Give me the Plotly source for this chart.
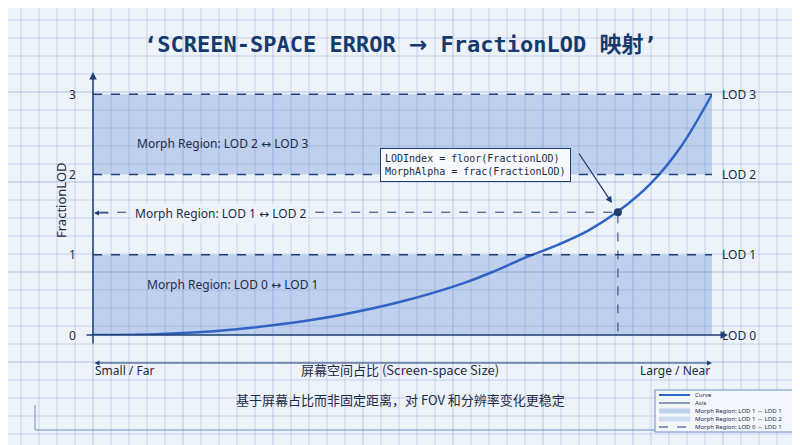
import plotly.graph_objects as go

# curve: screen-space fraction -> FractionLOD
size_frac = [0.0, 0.1, 0.2, 0.3, 0.4, 0.5, 0.6, 0.65, 0.7, 0.75, 0.8, 0.85, 0.9, 0.95, 1.0]
fraction_lod = [0.0, 0.01, 0.05, 0.13, 0.25, 0.42, 0.65, 0.8, 0.97, 1.12, 1.3, 1.55, 1.88, 2.35, 3.0]
lod_levels = [0, 1, 2, 3]
lod_labels = ["LOD 0", "LOD 1", "LOD 2", "LOD 3"]
ARR = "<span style='font-family:DejaVu Sans'>↔</span>"
region_labels = [f"Morph Region: LOD 0 {ARR} LOD 1", f"Morph Region: LOD 1 {ARR} LOD 2", f"Morph Region: LOD 2 {ARR} LOD 3"]
legend_labels = ["Curve", "Axis", "Morph Region: LOD 1 ↔ LOD 1", "Morph Region: LOD 1 ↔ LOD 2", "Morph Region: LOD 0 ↔ LOD 1"]
marker_x, marker_y = 0.848, 1.53

W, H = 792, 437
OFF = 8  # page body margin
L, R, T, B = 85, 88, 67, 110
YMAX = 3.24
INK = "#1f3f73"
BLUE = "#2f63c4"
TXT = "#1d2b45"

def px(x):  # screen pixel -> paper x
    return (x - OFF - L) / (W - L - R)

def py(y):  # screen pixel -> paper y
    return (H - B - (y - OFF)) / (H - T - B)

fig = go.Figure()
shapes = []
# blueprint grid
for gx in range(3, W + 8, 18):
    shapes.append(dict(type="line", xref="paper", yref="paper", x0=px(gx), x1=px(gx), y0=py(OFF), y1=py(H + OFF),
                       line=dict(color="rgba(120,150,200,0.35)", width=1 if (gx - 3) % 90 else 1.4), layer="below"))
for gy in range(2, H + 8, 18):
    shapes.append(dict(type="line", xref="paper", yref="paper", x0=px(OFF), x1=px(W + OFF), y0=py(gy), y1=py(gy),
                       line=dict(color="rgba(120,150,200,0.35)", width=1 if (gy - 2) % 90 else 1.4), layer="below"))
# shaded bands
for y0, y1 in [(0, 1), (2, 3)]:
    shapes.append(dict(type="rect", xref="x", yref="y", x0=0, x1=1, y0=y0, y1=y1,
                       fillcolor="rgba(70,120,210,0.28)", line=dict(width=0), layer="below"))
# LOD dashed lines
for lv in lod_levels[1:]:
    shapes.append(dict(type="line", xref="x", yref="y", x0=0, x1=1, y0=lv, y1=lv,
                       line=dict(color=INK, width=1.3, dash="dash")))
# marker guides
shapes.append(dict(type="line", xref="x", yref="y", x0=marker_x, x1=marker_x, y0=-0.18, y1=marker_y,
                   line=dict(color=INK, width=1, dash="dash")))
shapes.append(dict(type="line", xref="x", yref="y", x0=0.01, x1=marker_x, y0=marker_y, y1=marker_y,
                   line=dict(color=INK, width=1, dash="dash")))
# bottom frame
shapes.append(dict(type="line", xref="paper", yref="paper", x0=px(35), x1=px(795), y0=py(430), y1=py(430),
                   line=dict(color="#6d8cc0", width=1)))
shapes.append(dict(type="line", xref="paper", yref="paper", x0=px(35), x1=px(35), y0=py(405), y1=py(430),
                   line=dict(color="#6d8cc0", width=1)))

# manual legend
shapes.append(dict(type="rect", xref="paper", yref="paper", x0=px(655), x1=px(795), y0=py(390), y1=py(432),
                   fillcolor="#f3f6fb", line=dict(color="#6d8cc0", width=1)))
ann = []
leg_styles = [dict(line=dict(color=BLUE, width=2)), dict(line=dict(color=INK, width=1)),
              dict(line=dict(color="rgba(70,120,210,0.3)", width=5)), dict(line=dict(color="rgba(70,120,210,0.2)", width=5)),
              dict(line=dict(color=INK, width=1, dash="dash"))]
for i, (lab, st) in enumerate(zip(legend_labels, leg_styles)):
    yy = 395 + i * 8
    shapes.append(dict(type="line", xref="paper", yref="paper", x0=px(659), x1=px(690), y0=py(yy), y1=py(yy), **st))
    ann.append(dict(xref="paper", yref="paper", x=px(693), y=py(yy), text=lab, showarrow=False, xanchor="left",
                    yanchor="middle", font=dict(family="Noto Sans", size=6, color=TXT)))
fig.update_layout(shapes=shapes)

fig.add_trace(go.Scatter(x=size_frac, y=fraction_lod, mode="lines", line=dict(color=BLUE, width=2.5, shape="spline"),
                         name="Curve", cliponaxis=False, showlegend=False))
fig.add_trace(go.Scatter(x=[marker_x], y=[marker_y], mode="markers", marker=dict(color=INK, size=8),
                         showlegend=False))

XD, YD = "x domain", "y domain"

def arrow(x0, y0, x1, y1, **kw):
    return dict(xref=XD, yref=YD, axref=XD, ayref=YD, x=px(x1), y=py(y1), ax=px(x0), ay=py(y0),
                text="", showarrow=True, arrowcolor=INK, **kw)

ann.append(dict(xref="paper", yref="paper", x=px(400), y=py(45),
                text="<b>‘SCREEN-SPACE ERROR <span style='font-family:DejaVu Sans'>→</span> FractionLOD 映射’</b>",
                showarrow=False, font=dict(family="DejaVu Sans Mono, Noto Sans CJK SC", size=22, color="#173a6e"),
                xanchor="center", yanchor="middle"))
for lv, lab in zip(lod_levels, lod_labels):
    ann.append(dict(xref="paper", yref="y", x=px(720), y=lv, text=lab, showarrow=False, xanchor="left",
                    font=dict(family="Noto Sans", size=12, color=TXT)))
    ann.append(dict(xref="paper", yref="y", x=px(78), y=lv, text=str(lv), showarrow=False, xanchor="right",
                    font=dict(family="Noto Sans", size=12, color=TXT)))
for (xx, yy), lab, bg in zip([(145, 295), (133, 213), (135, 133)], region_labels,
                             ["rgba(0,0,0,0)", "#eef3fa", "rgba(0,0,0,0)"]):
    ann.append(dict(xref="paper", yref="paper", x=px(xx), y=py(yy), text=lab, showarrow=False, xanchor="left",
                    font=dict(family="Noto Sans", size=12, color=TXT), bgcolor=bg))
ann.append(dict(xref="paper", yref="paper", x=px(50), y=py(200), text="FractionLOD", textangle=-90, showarrow=False,
                font=dict(family="Noto Sans", size=13, color=TXT)))
# axis arrows
ann.append(arrow(93, 345, 93, 72, arrowhead=2, arrowwidth=1.5))
ann.append(arrow(85, 335, 728, 335, arrowhead=2, arrowwidth=1.5))
ann.append(arrow(93, 363, 712, 363, arrowhead=2, arrowside="end+start", arrowwidth=1))
ann.append(arrow(110, 213, 94, 213, arrowhead=2, arrowwidth=1))
ann.append(dict(xref="paper", yref="paper", x=px(93), y=py(381), text="Small / Far", showarrow=False, xanchor="left",
                font=dict(family="Noto Sans", size=12, color=TXT)))
ann.append(dict(xref="paper", yref="paper", x=px(712), y=py(381), text="Large / Near", showarrow=False, xanchor="right",
                font=dict(family="Noto Sans", size=12, color=TXT)))
ann.append(dict(xref="paper", yref="paper", x=px(400), y=py(381), text="屏幕空间占比 (Screen-space Size)", showarrow=False,
                font=dict(family="Noto Sans CJK SC", size=13, color=TXT)))
ann.append(dict(xref="paper", yref="paper", x=px(400), y=py(411), text="基于屏幕占比而非固定距离，对 FOV 和分辨率变化更稳定",
                showarrow=False, font=dict(family="Noto Sans CJK SC", size=13, color=TXT)))
# formula box
ann.append(dict(xref="paper", yref="paper", x=px(380), y=py(148), xanchor="left",
                text="LODIndex = floor(FractionLOD)<br>MorphAlpha = frac(FractionLOD)", align="left", showarrow=False,
                font=dict(family="DejaVu Sans Mono", size=10, color=TXT), bgcolor="#f7f9fd",
                bordercolor=INK, borderwidth=1, borderpad=4))
ann.append(arrow(578, 152, 612, 203, arrowhead=2, arrowwidth=1.3))

fig.update_layout(
    annotations=ann,
    width=W, height=H, margin=dict(l=L, r=R, t=T, b=B, autoexpand=False),
    paper_bgcolor="#eef3fa", plot_bgcolor="rgba(0,0,0,0)",
    xaxis=dict(range=[0, 1], visible=False),
    yaxis=dict(range=[0, YMAX], visible=False),
    showlegend=False,
)
fig.write_html("out.html")
